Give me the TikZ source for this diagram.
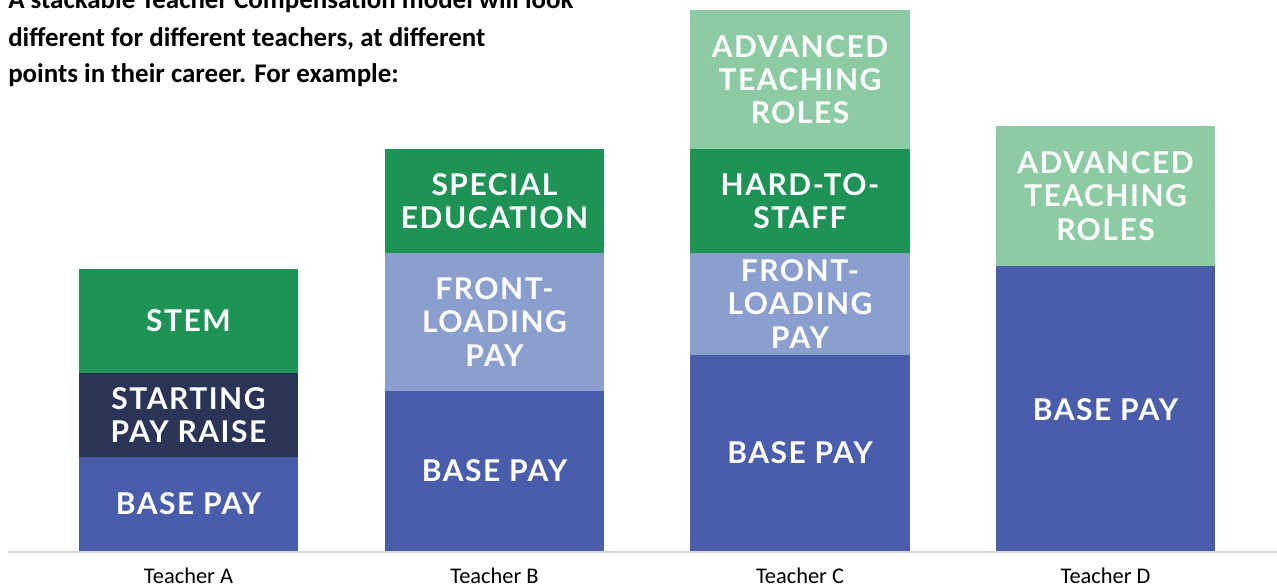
\documentclass[tikz,border=0pt]{standalone}
\usepackage{fontspec}
\setmainfont{Carlito}
\newfontfamily\barfont[LetterSpace=5]{Lato}
\usepackage{tikz}

\definecolor{basepay}{HTML}{4A5DAA}
\definecolor{startpay}{HTML}{2B3356}
\definecolor{stemgreen}{HTML}{1F9255}
\definecolor{frontload}{HTML}{8B9FCF}
\definecolor{advgreen}{HTML}{8CCBA3}
\definecolor{axisgray}{HTML}{D6D8D8}

\tikzset{
  seglabel/.style={text=white, align=center, inner sep=0pt,
    font=\barfont\bfseries\fontsize{22.5}{25}\selectfont},
  teacher/.style={anchor=base, inner sep=0pt, font=\fontsize{16.8}{18}\selectfont},
  heading/.style={anchor=base west, inner sep=0pt, font=\bfseries\fontsize{20.2}{27}\selectfont}
}

\begin{document}
\begin{tikzpicture}[x=0.75pt, y=-0.75pt]
  \useasboundingbox (0,0) rectangle (1277,587);

  % heading
  \node[heading] (head1) at (8,8) {A stackable Teacher Compensation model will look};
  \node[heading] (head2) at (8,46) {different for different teachers, at different};
  \node[heading] (head3) at (8,82) {points in their career. For example:};

  % teacher A
  \fill[basepay] (79,457) rectangle (298,551);
  \fill[startpay] (79,373) rectangle (298,457);
  \fill[stemgreen] (79,269) rectangle (298,373);
  \node[seglabel] (a-base) at (188.5,504) {BASE PAY};
  \node[seglabel] (a-start) at (188.5,415) {STARTING\\PAY RAISE};
  \node[seglabel] (a-stem) at (188.5,321) {STEM};

  % teacher B
  \fill[basepay] (385,391) rectangle (604,551);
  \fill[frontload] (385,253) rectangle (604,391);
  \fill[stemgreen] (385,149) rectangle (604,253);
  \node[seglabel] (b-base) at (494.5,471) {BASE PAY};
  \node[seglabel] (b-front) at (494.5,322) {FRONT-\\LOADING\\PAY};
  \node[seglabel] (b-sped) at (494.5,201) {SPECIAL\\EDUCATION};

  % teacher C
  \fill[basepay] (690,355) rectangle (910,551);
  \fill[frontload] (690,253) rectangle (910,355);
  \fill[stemgreen] (690,149) rectangle (910,253);
  \fill[advgreen] (690,10) rectangle (910,149);
  \node[seglabel] (c-base) at (800,453) {BASE PAY};
  \node[seglabel] (c-front) at (800,304) {FRONT-\\LOADING\\PAY};
  \node[seglabel] (c-hard) at (800,201) {HARD-TO-\\STAFF};
  \node[seglabel] (c-adv) at (800,79.5) {ADVANCED\\TEACHING\\ROLES};

  % teacher D
  \fill[basepay] (996,266) rectangle (1215,551);
  \fill[advgreen] (996,126) rectangle (1215,266);
  \node[seglabel] (d-base) at (1105.5,410) {BASE PAY};
  \node[seglabel] (d-adv) at (1105.5,196) {ADVANCED\\TEACHING\\ROLES};

  % axis line
  \draw[axisgray, line width=2.2pt] (8,552) -- (1277,552);

  % teacher names
  \node[teacher] (name-a) at (188.5,583) {Teacher A};
  \node[teacher] (name-b) at (494.5,583) {Teacher B};
  \node[teacher] (name-c) at (800,583) {Teacher C};
  \node[teacher] (name-d) at (1105.5,583) {Teacher D};
\end{tikzpicture}
\end{document}
